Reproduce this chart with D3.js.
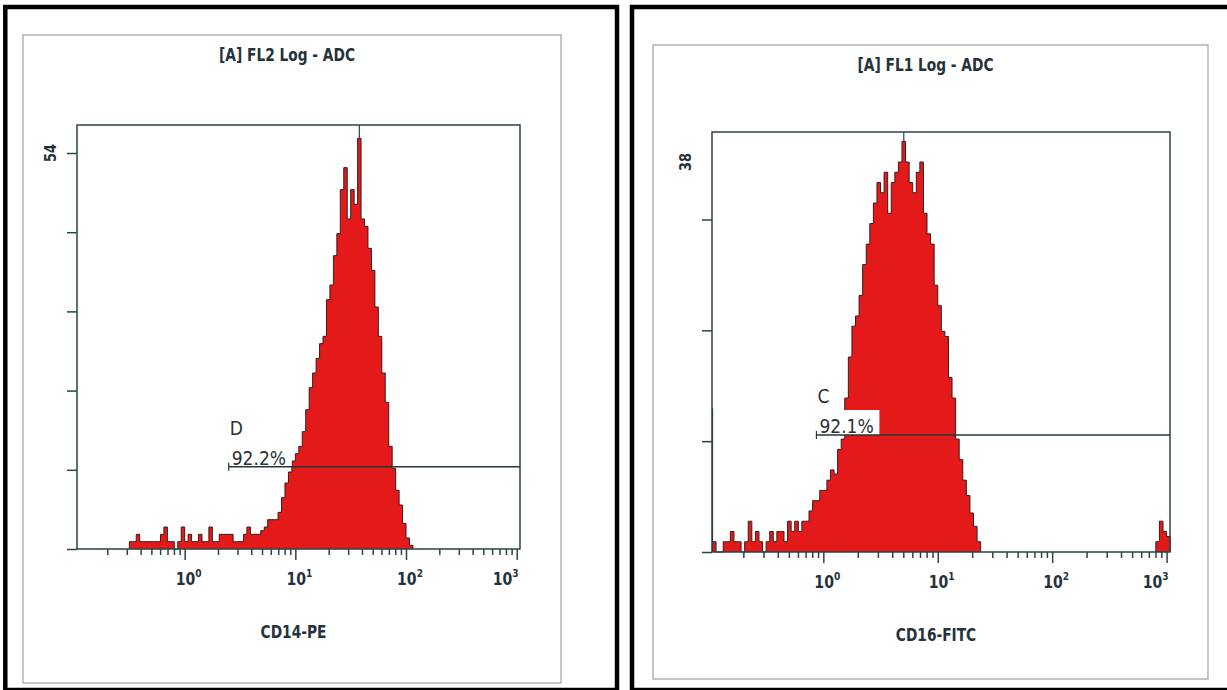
<!DOCTYPE html>
<html>
<head>
<meta charset="utf-8">
<script src="https://cdn.jsdelivr.net/npm/d3@7"></script>
<style>
  body { margin: 0; background: #fff; }
  svg { display: block; }
  text { font-family: "Liberation Sans Narrow", "DejaVu Sans Condensed", sans-serif; }
</style>
</head>
<body>
<svg id="chart" width="1227" height="690"></svg>
<script>
// histogram channels: 32 bins per decade, bin k covers 10^(k/32) .. 10^((k+1)/32)
const binsPerDecade = 32;

// CD14-PE (FL2)
const cd14Start = -16;
const cd14Counts = [
  1, 1, 2, 1, 1, 1, 1, 1, 1, 2, 3, 1,
  1, 0, 1, 3,
  1, 2, 1, 1, 2, 1, 1, 3, 1, 1,
  2, 2, 2, 2, 1, 1, 1, 2, 3, 2,
  2, 2, 2.5, 3, 4, 4, 4, 5, 7, 9,
  10.5, 12, 13, 14, 16, 19, 22, 24, 26, 28,
  29, 34, 36, 40, 43, 49, 52, 45, 49, 47,
  56, 45, 44, 41, 38, 33, 29, 24, 20, 14,
  11, 8, 6, 3.5, 1.5, 0.5
];
const cd14YTicks = [0, 10.8, 21.6, 32.4, 43.2, 54];

// CD16-FITC (FL1)
const cd16Start = -31;
const cd16Counts = [
  1, 0, 0, 1, 1, 2, 1, 1, 0, 1,
  3, 1, 2, 1, 0, 1, 2, 1, 2, 2,
  1, 3, 2, 3, 2, 3, 3, 4, 5, 5,
  6, 6, 7, 8, 7.6, 10, 11, 15, 19, 22,
  23, 25, 28, 30, 32, 34, 36, 35, 37, 33,
  36, 37, 38, 40, 38, 36, 35, 37, 38, 33,
  31, 30, 26, 24, 21.5, 21, 17, 15, 11, 9,
  7, 5.5, 3.8, 2.5, 1
];
const cd16HighStart = 93;
const cd16HighCounts = [1, 3, 2, 1.5];
const cd16FirstChannel = 14;
const cd16YTicks = [0, 10.8, 21.6, 32.4];

const decades = [1, 10, 100, 1000];
const decadeExponents = ["0", "1", "2", "3"];
const titles = ["[A] FL2 Log - ADC", "[A] FL1 Log - ADC"];
const axisTitles = ["CD14-PE", "CD16-FITC"];
const yMaxValues = [54, 38];
const gateNames = ["D", "C"];
const gatePercents = ["92.2%", "92.1%"];
const gateStarts = [2.5, 0.87];
const gateLevels = [11.2, 11.4];

const xDomain = [Math.pow(10, -0.973), Math.pow(10, 3.03)];

const ink = "#25323b";
const boxInk = "#2b4444";
const red = "#e3191a";

const svg = d3.select("#chart");

const panels = [
  { outer: [5.3, 7, 611.7, 683], inner: [23, 35, 538, 648], left: 77, right: 520, top: 125, bottom: 549, yLabelAt: 153,
    start: cd14Start, counts: cd14Counts, yTicks: cd14YTicks },
  { outer: [632, 7, 600, 683], inner: [653, 45, 555, 634], left: 712, right: 1170, top: 132, bottom: 552, yLabelAt: 162,
    start: cd16Start, counts: cd16Counts, yTicks: cd16YTicks,
    highStart: cd16HighStart, highCounts: cd16HighCounts, firstChannel: cd16FirstChannel }
];

function binEdge(k) { return Math.pow(10, k / binsPerDecade); }

// turn counts into step points (lower edge of every bin, plus end of last bin)
function stepPoints(start, counts) {
  const pts = [{ x: binEdge(start), c: 0 }];
  counts.forEach((c, i) => pts.push({ x: binEdge(start + i), c: c }));
  pts.push({ x: binEdge(start + counts.length), c: 0 });
  return pts;
}

// condensed bold label (the scan uses a narrow font)
function narrowText(g, x, y, str, size, squeeze) {
  return g.append("text")
    .attr("transform", `translate(${x},${y}) scale(${squeeze},1)`)
    .attr("text-anchor", "middle")
    .attr("font-size", size).attr("font-weight", "bold")
    .attr("fill", ink)
    .text(str);
}

panels.forEach((p, idx) => {
  const g = svg.append("g");

  // scanned frames
  g.append("rect")
    .attr("x", p.outer[0]).attr("y", p.outer[1])
    .attr("width", p.outer[2]).attr("height", p.outer[3])
    .attr("fill", "none").attr("stroke", "#000").attr("stroke-width", 4.5);
  g.append("rect")
    .attr("x", p.inner[0]).attr("y", p.inner[1])
    .attr("width", p.inner[2]).attr("height", p.inner[3])
    .attr("fill", "none").attr("stroke", "#a3a8ab").attr("stroke-width", 1.3);

  const x = d3.scaleLog().domain(xDomain).range([p.left, p.right]);
  const y = d3.scaleLinear().domain([0, yMaxValues[idx]]).range([p.bottom, p.yLabelAt]);

  // title
  narrowText(g, p.inner[0] + p.inner[2] / 2 - 5, p.inner[1] + 26, titles[idx], 18, 0.85);

  // histogram
  const area = d3.area()
    .curve(d3.curveStepAfter)
    .x(d => x(d.x)).y0(y(0)).y1(d => y(d.c));
  const line = d3.line()
    .curve(d3.curveStepAfter)
    .x(d => x(d.x)).y(d => y(d.c));

  const segments = [stepPoints(p.start, p.counts)];
  if (p.highCounts) segments.push(stepPoints(p.highStart, p.highCounts));

  segments.forEach(pts => {
    g.append("path").attr("d", area(pts)).attr("fill", red);
    g.append("path").attr("d", line(pts))
      .attr("fill", "none").attr("stroke", "#3a1c1c").attr("stroke-width", 1);
  });

  if (p.firstChannel) {
    g.append("line")
      .attr("x1", x(xDomain[0]) + 0.5).attr("x2", x(xDomain[0]) + 0.5)
      .attr("y1", y(0)).attr("y2", y(p.firstChannel))
      .attr("stroke", "#2a2a2a").attr("stroke-width", 1.2);
  }

  // peak marker from the top of the box
  const peakI = d3.maxIndex(p.counts);
  const peakX = x(Math.pow(10, (p.start + peakI + 0.5) / binsPerDecade));
  g.append("line")
    .attr("x1", peakX).attr("x2", peakX)
    .attr("y1", p.top).attr("y2", y(p.counts[peakI]))
    .attr("stroke", boxInk).attr("stroke-width", 1.2);

  // plot box
  g.append("rect")
    .attr("x", p.left).attr("y", p.top)
    .attr("width", p.right - p.left).attr("height", p.bottom - p.top)
    .attr("fill", "none").attr("stroke", boxInk).attr("stroke-width", 1.5);

  // y axis ticks
  const yAxis = g.append("g")
    .attr("transform", `translate(${p.left},0)`)
    .call(d3.axisLeft(y).tickValues(p.yTicks).tickSize(10).tickFormat(""));
  yAxis.select(".domain").remove();
  yAxis.selectAll("line").attr("stroke", boxInk).attr("stroke-width", 1.5);

  g.append("text")
    .attr("transform", `translate(${p.left - 21},${y(yMaxValues[idx])}) rotate(-90) scale(0.9,1)`)
    .attr("text-anchor", "middle")
    .attr("font-size", 16).attr("font-weight", "bold")
    .attr("fill", ink)
    .text(yMaxValues[idx]);

  // x axis ticks (log)
  const minor = [];
  [0.1, 1, 10, 100].forEach(d => {
    for (let m = 2; m <= 9; m++) {
      const v = d * m;
      if (v >= xDomain[0] && v <= xDomain[1]) minor.push(v);
    }
  });
  const xMinor = g.append("g")
    .attr("transform", `translate(0,${p.bottom})`)
    .call(d3.axisBottom(x).tickValues(minor).tickSize(6).tickFormat(""));
  const xMajor = g.append("g")
    .attr("transform", `translate(0,${p.bottom})`)
    .call(d3.axisBottom(x).tickValues(decades).tickSize(11).tickFormat(""));
  [xMinor, xMajor].forEach(a => {
    a.select(".domain").remove();
    a.selectAll("line").attr("stroke", boxInk).attr("stroke-width", 1.5);
  });

  decades.forEach((d, i) => {
    const last = i === decades.length - 1;
    const t = g.append("text")
      .attr("transform", `translate(${last ? x(d) + 2 : x(d) + 4},${p.bottom + 36}) scale(0.92,1)`)
      .attr("text-anchor", last ? "end" : "middle")
      .attr("font-size", 17).attr("font-weight", "bold")
      .attr("fill", ink);
    t.append("tspan").text("10");
    t.append("tspan").attr("dy", -8).attr("font-size", 11).text(decadeExponents[i]);
  });

  // axis title
  narrowText(g, (p.left + p.right) / 2 - 5, p.bottom + 89, axisTitles[idx], 18, 0.85);

  // gate marker
  const gx = x(gateStarts[idx]);
  const gy = y(gateLevels[idx]);
  g.append("rect")
    .attr("x", gx - 1).attr("y", gy - 25)
    .attr("width", 64).attr("height", 25)
    .attr("fill", "#fff");
  g.append("line")
    .attr("x1", gx).attr("x2", p.right)
    .attr("y1", gy).attr("y2", gy)
    .attr("stroke", "#1f3a3a").attr("stroke-width", 1.5);
  g.append("line")
    .attr("x1", gx).attr("x2", gx)
    .attr("y1", gy - 4).attr("y2", gy + 4)
    .attr("stroke", "#1f3a3a").attr("stroke-width", 1.2);
  g.append("text")
    .attr("x", gx + 1).attr("y", gy - 32)
    .attr("font-family", "Liberation Sans, Arial, sans-serif")
    .attr("font-size", 19)
    .attr("fill", "#2a2f33")
    .text(gateNames[idx]);
  g.append("text")
    .attr("x", gx + 3).attr("y", gy - 2)
    .attr("font-family", "Liberation Sans, Arial, sans-serif")
    .attr("font-size", 19)
    .attr("fill", "#2a2f33")
    .text(gatePercents[idx]);
});
</script>
</body>
</html>
